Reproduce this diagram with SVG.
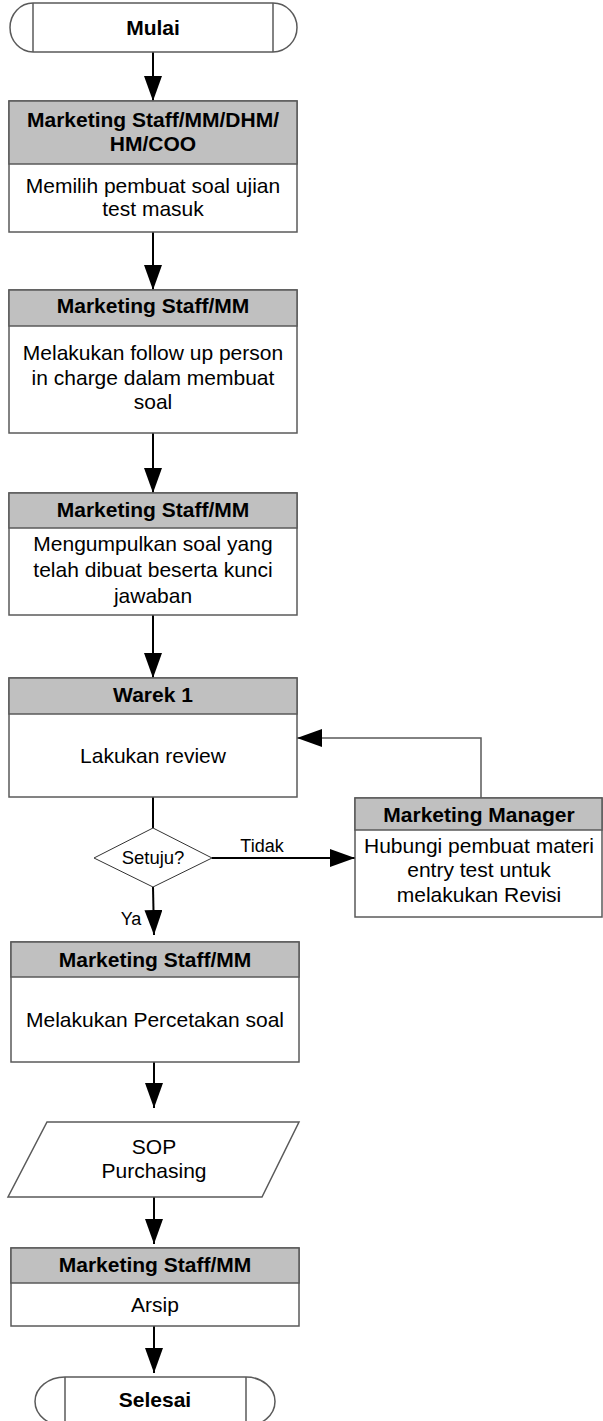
<svg xmlns="http://www.w3.org/2000/svg" width="603" height="1421" viewBox="0 0 603 1421">
<style>
.box{fill:#fff;stroke:#5a5a5a;stroke-width:1.5}
.hdr{fill:#c0c0c0;stroke:#5a5a5a;stroke-width:1.5}
.t{font-family:"Liberation Sans",Arial,sans-serif;font-size:21px;fill:#000;text-anchor:middle}
.b{font-weight:bold}
.s{font-size:18px}
.con{fill:none;stroke:#000;stroke-width:2}
.fb{fill:none;stroke:#5a5a5a;stroke-width:1.5}
</style>
<defs>
<marker id="ah" markerUnits="userSpaceOnUse" markerWidth="25" markerHeight="18" refX="25" refY="9" orient="auto">
<path d="M0,0 L25,9 L0,18 Z" fill="#000"/>
</marker>
</defs>
<rect width="603" height="1421" fill="#fff"/>
<g id="connectors">
<line class="con" x1="153" y1="52" x2="153" y2="101" marker-end="url(#ah)"/>
<line class="con" x1="153" y1="232" x2="153" y2="290" marker-end="url(#ah)"/>
<line class="con" x1="153" y1="433" x2="153" y2="493" marker-end="url(#ah)"/>
<line class="con" x1="153" y1="615" x2="153" y2="678" marker-end="url(#ah)"/>
<line class="con" x1="153" y1="797" x2="153" y2="828"/>
<line class="con" x1="153" y1="887" x2="154" y2="935" marker-end="url(#ah)"/>
<line class="con" x1="212" y1="858" x2="355" y2="858" marker-end="url(#ah)"/>
<polyline class="fb" points="481,798 481,738 297,738" marker-end="url(#ah)"/>
<line class="con" x1="154" y1="1062" x2="154" y2="1108" marker-end="url(#ah)"/>
<line class="con" x1="154" y1="1197" x2="154" y2="1244" marker-end="url(#ah)"/>
<line class="con" x1="154" y1="1326" x2="154" y2="1373" marker-end="url(#ah)"/>
<text class="t s" x="262" y="852">Tidak</text>
<text class="t s" x="131" y="925">Ya</text>
</g>
<g id="mulai">
<path class="box" d="M33,3 H273 A24,24.5 0 0 1 273,52 H33 A23,24.5 0 0 1 33,3 Z"/>
<line class="box" x1="33" y1="3" x2="33" y2="52"/>
<line class="box" x1="273" y1="3" x2="273" y2="52"/>
<text class="t b" x="153" y="35">Mulai</text>
</g>
<g id="step1">
<rect class="box" x="9" y="101" width="288" height="131"/>
<rect class="hdr" x="9" y="101" width="288" height="63"/>
<text class="t b" x="153" y="127">Marketing Staff/MM/DHM/</text>
<text class="t b" x="153" y="151">HM/COO</text>
<text class="t" x="153" y="193">Memilih pembuat soal ujian</text>
<text class="t" x="153" y="216">test masuk</text>
</g>
<g id="step2">
<rect class="box" x="9" y="290" width="288" height="143"/>
<rect class="hdr" x="9" y="290" width="288" height="36"/>
<text class="t b" x="153" y="313">Marketing Staff/MM</text>
<text class="t" x="153" y="360">Melakukan follow up person</text>
<text class="t" x="153" y="385">in charge dalam membuat</text>
<text class="t" x="153" y="409">soal</text>
</g>
<g id="step3">
<rect class="box" x="9" y="493" width="288" height="122"/>
<rect class="hdr" x="9" y="493" width="288" height="35"/>
<text class="t b" x="153" y="517">Marketing Staff/MM</text>
<text class="t" x="153" y="551">Mengumpulkan soal yang</text>
<text class="t" x="153" y="577">telah dibuat beserta kunci</text>
<text class="t" x="153" y="603">jawaban</text>
</g>
<g id="step4">
<rect class="box" x="9" y="678" width="288" height="119"/>
<rect class="hdr" x="9" y="678" width="288" height="36"/>
<text class="t b" x="153" y="702">Warek 1</text>
<text class="t" x="153" y="763">Lakukan review</text>
</g>
<g id="decision">
<polygon class="box" points="153,828 212,858 153,887 94,858" style="stroke:#333;stroke-width:1"/>
<text class="t" x="153" y="864" style="font-size:18.5px">Setuju?</text>
</g>
<g id="revisi">
<rect class="box" x="355" y="798" width="247" height="119"/>
<rect class="hdr" x="355" y="798" width="247" height="32"/>
<text class="t b" x="479" y="822">Marketing Manager</text>
<text class="t" x="479" y="853">Hubungi pembuat materi</text>
<text class="t" x="479" y="877">entry test untuk</text>
<text class="t" x="479" y="902">melakukan Revisi</text>
</g>
<g id="step5">
<rect class="box" x="11" y="942" width="288" height="120"/>
<rect class="hdr" x="11" y="942" width="288" height="35"/>
<text class="t b" x="155" y="967">Marketing Staff/MM</text>
<text class="t" x="155" y="1027">Melakukan Percetakan soal</text>
</g>
<g id="sop">
<polygon class="box" points="47,1122 299,1122 262,1197 8,1197"/>
<text class="t" x="154" y="1154">SOP</text>
<text class="t" x="154" y="1178">Purchasing</text>
</g>
<g id="step6">
<rect class="box" x="11" y="1248" width="288" height="78"/>
<rect class="hdr" x="11" y="1248" width="288" height="35"/>
<text class="t b" x="155" y="1272">Marketing Staff/MM</text>
<text class="t" x="155" y="1312">Arsip</text>
</g>
<g id="selesai">
<path class="box" d="M65,1377 H246 A29,24.5 0 0 1 246,1426 H65 A30,24.5 0 0 1 65,1377 Z"/>
<line class="box" x1="65" y1="1377" x2="65" y2="1426"/>
<line class="box" x1="246" y1="1377" x2="246" y2="1426"/>
<text class="t b" x="155" y="1407">Selesai</text>
</g>
</svg>
